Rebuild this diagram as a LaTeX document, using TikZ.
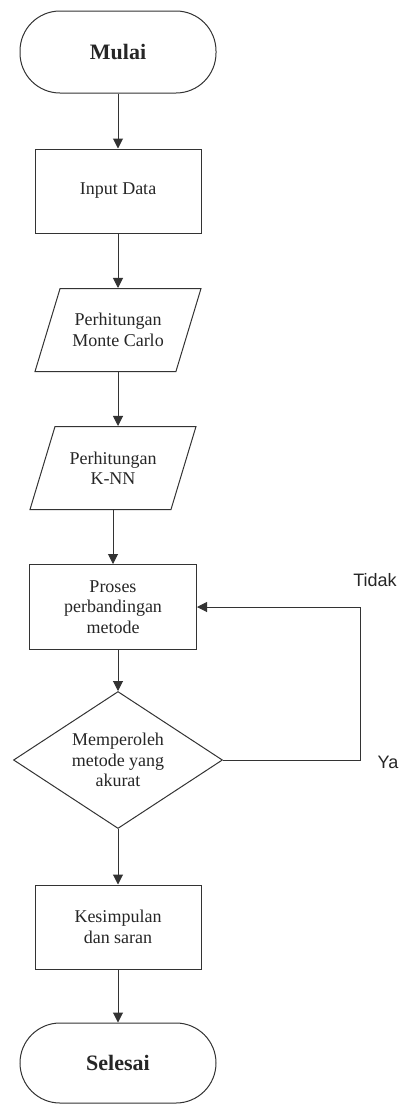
\documentclass[tikz,border=0pt]{standalone}
\usepackage{fontspec}
\setmainfont{Liberation Serif}
\newfontfamily\labelfont{Liberation Sans}
\usetikzlibrary{shapes.geometric,arrows.meta}

\tikzset{%
  terminal/.style={
    rectangle,
    draw,
    rounded corners=40pt,
    minimum width=196pt,
    minimum height=82pt,
    font=\fontsize{22}{26}\selectfont\bfseries
  },
  process/.style={
    rectangle,
    draw,
    minimum width=166pt,
    minimum height=84pt,
    align=center
  },
  io/.style={
    trapezium,
    draw,
    trapezium left angle=72,
    trapezium right angle=108,
    trapezium stretches body,
    inner ysep=22pt,
    minimum width=166pt,
    minimum height=83pt,
    align=center
  },
  decision/.style={
    diamond,
    draw,
    aspect=1.525,
    minimum width=209pt,
    minimum height=137pt,
    align=center
  },
  arr/.style={
    -{Triangle[length=10pt,width=10pt]}
  },
}

\begin{document}
\begin{tikzpicture}[x=1pt,y=-1pt,inner sep=0pt,line width=1pt,draw=black!80,text=black!85,
  font=\fontsize{18}{20.5}\selectfont]
\useasboundingbox (0,0) rectangle (400,1104);
\node[terminal] (mulai) at (118,52) {Mulai};
\node[process] (input) at (118,191) {Input Data};
\node[io] (mc) at (118,330) {Perhitungan\\Monte Carlo};
\node[io] (knn) at (113,468) {Perhitungan\\K-NN};
\node[process, minimum width=167pt, minimum height=85pt] (banding) at (113,607) {Proses\\perbandingan\\metode};
\node[decision] (akurat) at (118,760) {Memperoleh\\metode yang\\akurat};
\node[process] (simpul) at (118,927) {Kesimpulan\\dan saran};
\node[terminal, minimum height=80pt] (selesai) at (118,1063) {Selesai};
\node[font=\labelfont\fontsize{18}{20}\selectfont] (tidak) at (375,580) {Tidak};
\node[font=\labelfont\fontsize{18}{20}\selectfont] (ya) at (388,762) {Ya};
\coordinate (loop) at (360,760);

\draw[arr] (mulai) -- (input);
\draw[arr] (input) -- (mc);
\draw[arr] (mc.south) -- (mc.south |- knn.north);
\draw[arr] (knn) -- (banding);
\draw[arr] (banding.south -| akurat.north) -- (akurat.north);
\draw[arr] (akurat.east) -- (loop) |- (banding.east);
\draw[arr] (akurat) -- (simpul);
\draw[arr] (simpul) -- (selesai);
\end{tikzpicture}
\end{document}
